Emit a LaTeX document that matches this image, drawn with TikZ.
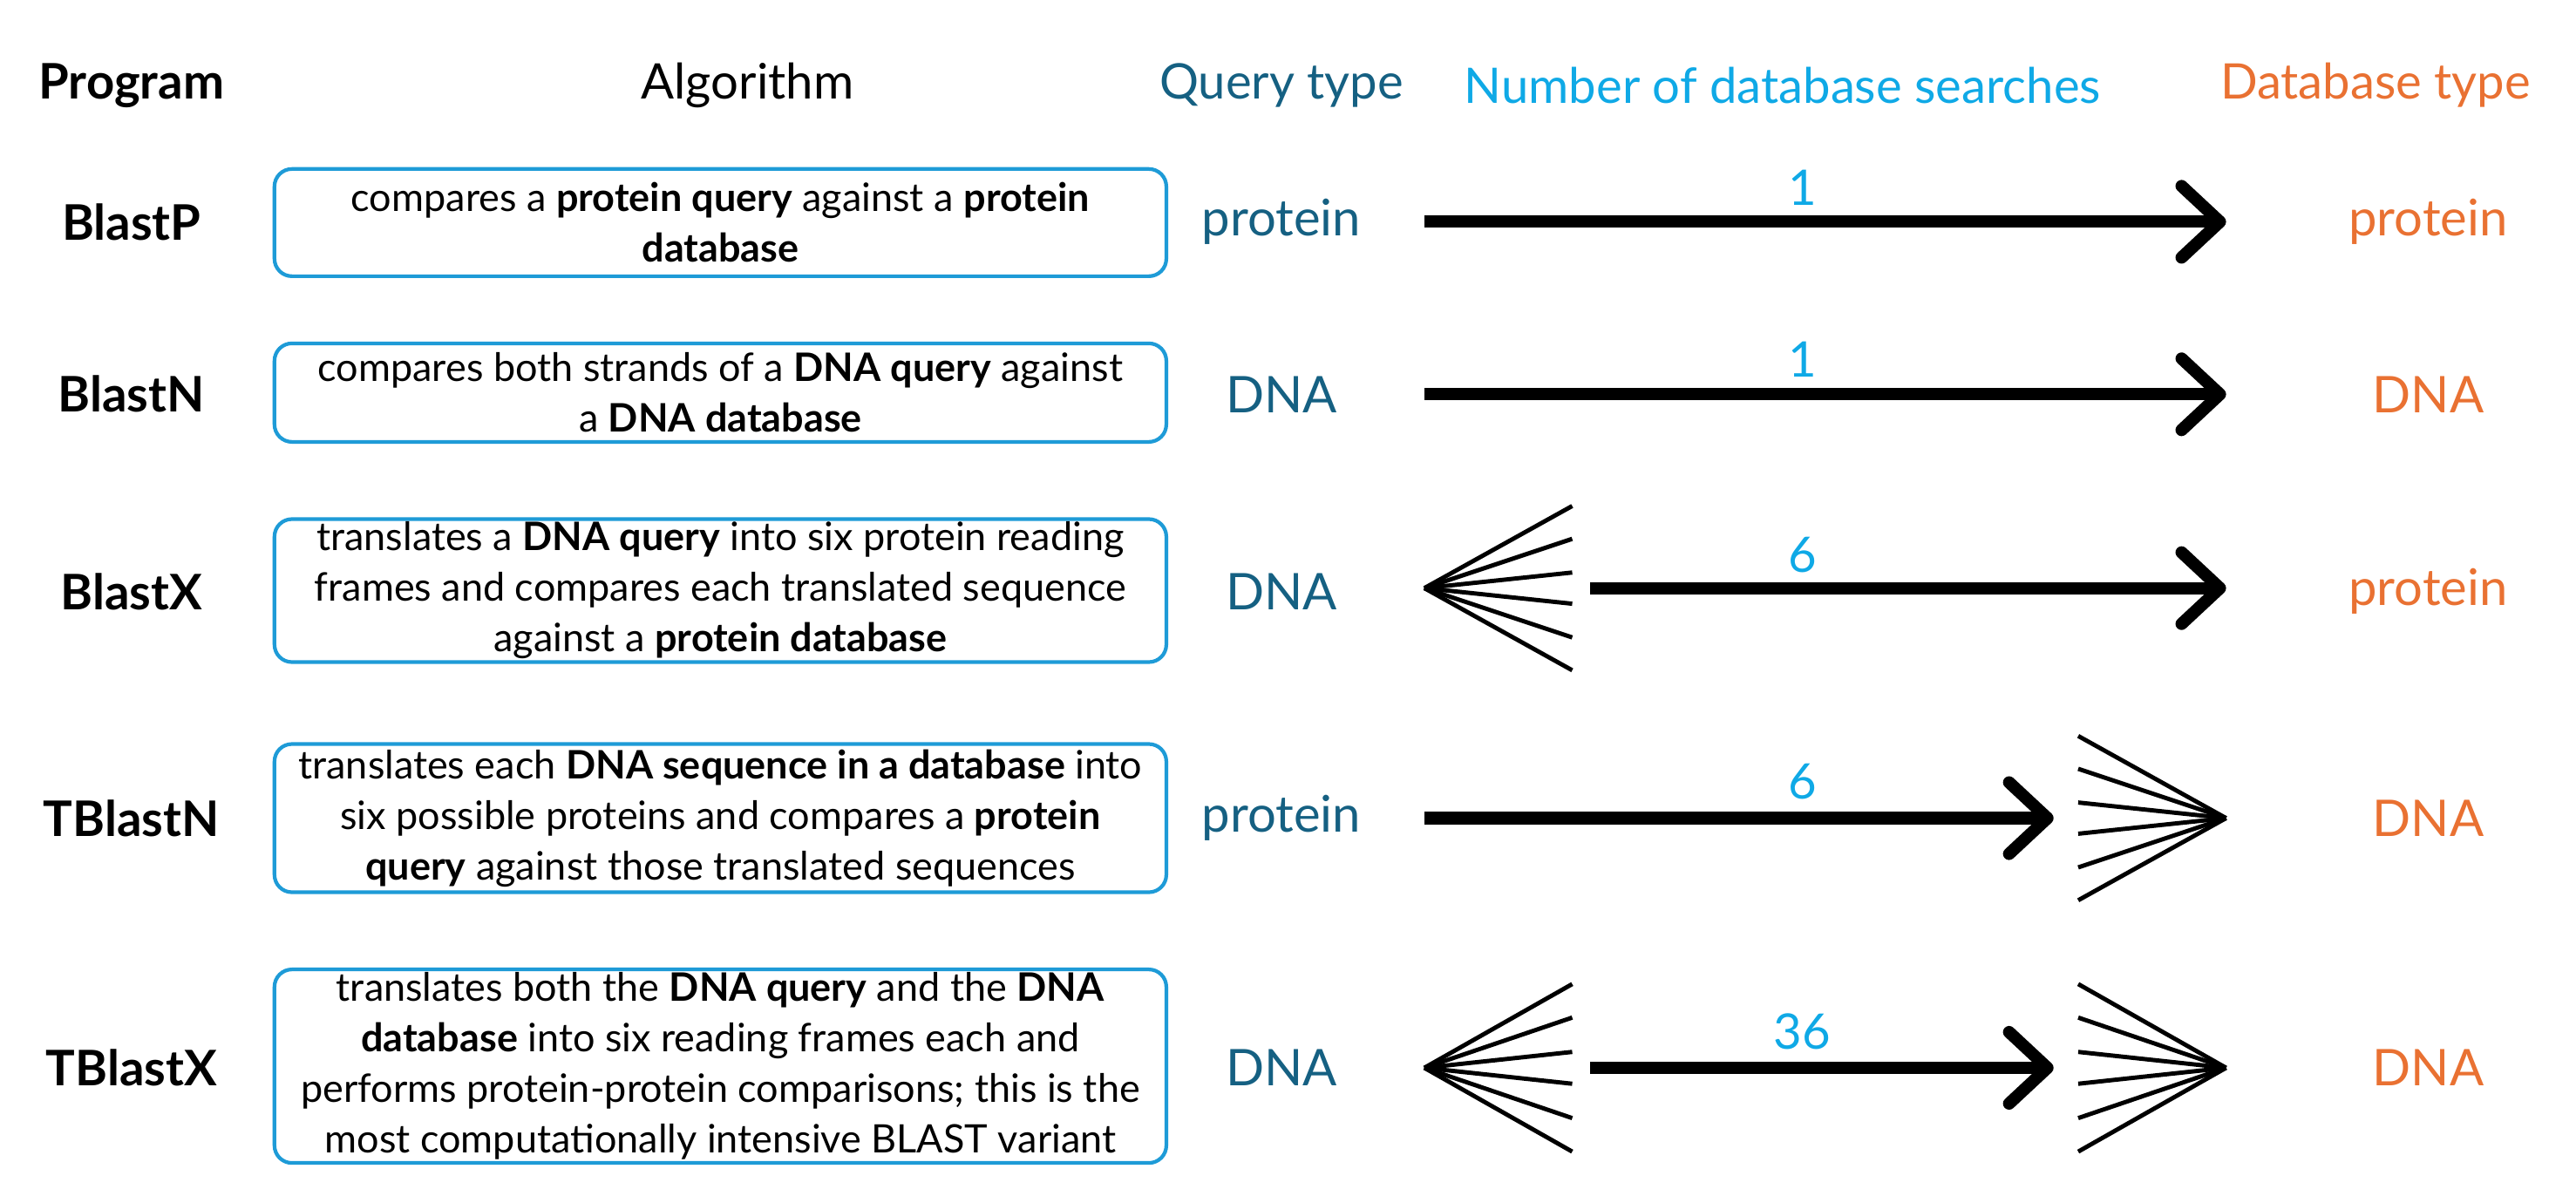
\documentclass[tikz,border=0pt]{standalone}
\usepackage{fontspec}
\setmainfont{Lato}
\usetikzlibrary{arrows.meta}
\definecolor{qcol}{HTML}{156082}
\definecolor{dcol}{HTML}{E97132}
\definecolor{ncol}{HTML}{0FA9E6}
\definecolor{bcol}{HTML}{1E9BD7}
\begin{document}
\begin{tikzpicture}[x=0.018846cm,y=-0.018846cm,
 hdr/.style={font=\fontsize{16}{18}\selectfont},
 prog/.style={font=\fontsize{16}{18}\selectfont\bfseries},
 box/.style={draw=bcol,line width=1.2pt,rounded corners=0.2cm,minimum width=10.23cm,align=center,font=\fontsize{12.8}{16.5}\selectfont,inner sep=0pt},
 qt/.style={text=qcol,font=\fontsize{16.5}{20}\selectfont},
 dt/.style={text=dcol,font=\fontsize{16.5}{20}\selectfont},
 num/.style={text=ncol,font=\fontsize{16}{19}\selectfont},
 arr/.style={line width=4pt,-{Straight Barb[length=4.4mm,width=8.2mm,line cap=round,line join=round]}},
 fan/.style={line width=1.4pt},
]
\useasboundingbox (0,0) rectangle (1568,728);
% headers
\node[prog] (h1) at (80,52) {Program};
\node[hdr] (h2) at (455,52) {Algorithm};
\node[hdr,text=qcol] (h3) at (780,52) {Query type};
\node[hdr,text=ncol] (h4) at (1085,52) {Number of database searches};
\node[hdr,text=dcol,anchor=east] (h5) at (1547,52) {Database type};
% rows
\foreach \n/\y/\p/\q/\d in {r1/135/BlastP/protein/protein, r2/240/BlastN/DNA/DNA, r3/360/BlastX/DNA/protein, r4/498/TBlastN/protein/DNA, r5/650/TBlastX/DNA/DNA}{
 \node[prog] (\n p) at (80,\y) {\p};
 \node[qt] (\n q) at (780,\y) {\q};
 \node[dt] (\n d) at (1478,\y) {\d};
}
\node[box,minimum height=1.23cm] (b1) at (438.5,135.5) {compares a \textbf{protein query} against a \textbf{protein}\\\textbf{database}};
\node[box,minimum height=1.13cm] (b2) at (438.5,239) {compares both strands of a \textbf{DNA query} against\\a \textbf{DNA database}};
\node[box,minimum height=1.64cm] (b3) at (438.5,359.5) {translates a \textbf{DNA query} into six protein reading\\frames and compares each translated sequence\\against a \textbf{protein database}};
\node[box,minimum height=1.70cm] (b4) at (438.5,498) {translates each \textbf{DNA sequence in a database} into\\six possible proteins and compares a \textbf{protein}\\\textbf{query} against those translated sequences};
\node[box,minimum height=2.22cm] (b5) at (438.5,649) {translates both the \textbf{DNA query} and the \textbf{DNA}\\\textbf{database} into six reading frames each and\\performs protein-protein comparisons; this is the\\most computationally intensive BLAST variant};
% coordinates
\coordinate (a1s) at (867,135); \coordinate (a1e) at (1355,135);
\coordinate (a2s) at (867,240); \coordinate (a2e) at (1355,240);
\coordinate (a3s) at (968,358); \coordinate (a3e) at (1355,358);
\coordinate (a4s) at (867,498); \coordinate (a4e) at (1250,498);
\coordinate (a5s) at (968,650); \coordinate (a5e) at (1250,650);
\draw[arr] (a1s) -- (a1e);
\draw[arr] (a2s) -- (a2e);
\draw[arr] (a3s) -- (a3e);
\draw[arr] (a4s) -- (a4e);
\draw[arr] (a5s) -- (a5e);
\node[num] (n1) at (1097,114) {1};
\node[num] (n2) at (1097,219) {1};
\node[num] (n3) at (1097,338) {6};
\node[num] (n4) at (1097,476) {6};
\node[num] (n5) at (1097,628) {36};
% fans
\coordinate (f3) at (867,358);
\coordinate (f4) at (1355,498);
\coordinate (f5a) at (867,650);
\coordinate (f5b) at (1355,650);
\foreach \o in {-1,-0.6,-0.19,0.19,0.6,1}{
 \draw[fan] (f3) -- ++(90,50*\o);
 \draw[fan] (f4) -- ++(-90,50*\o);
 \draw[fan] (f5a) -- ++(90,51*\o);
 \draw[fan] (f5b) -- ++(-90,51*\o);
}
\end{tikzpicture}
\end{document}
